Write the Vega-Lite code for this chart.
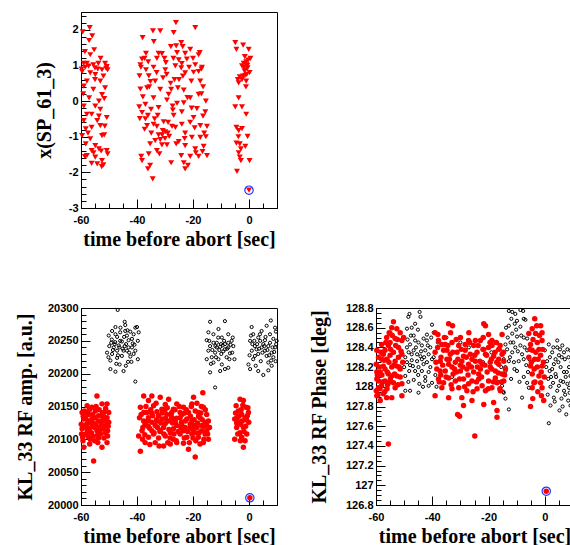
{
"$schema": "https://vega.github.io/schema/vega-lite/v6.json",
"padding": {"left": 14, "top": 9, "right": 0, "bottom": 0},
"background": "#ffffff",
"spacing": 51,
"config": {
  "view": {"stroke": "#000000", "strokeWidth": 1},
  "axis": {"labelFont": "Liberation Sans", "labelFontWeight": "bold", "labelFontSize": 11, "labelColor": "#000000",
           "titleFont": "Liberation Serif", "titleFontWeight": "bold", "titleFontSize": 20, "titleColor": "#000000",
           "domainColor": "#000000", "tickColor": "#000000", "grid": false, "labelFlush": false, "labelOverlap": false}
},
"datasets": {
"tri": [
{"t":-59.4,"v":1.94},{"t":-56.9,"v":2.06},{"t":-56.0,"v":1.83},{"t":-57.1,"v":1.70},{"t":-58.6,"v":1.39},{"t":-55.3,"v":1.44},{"t":-56.7,"v":1.30},{"t":-59.0,"v":1.06},{"t":-57.9,"v":1.06},{"t":-55.6,"v":1.02},{"t":-53.8,"v":1.06},{"t":-51.4,"v":1.06},{"t":-50.8,"v":0.97},{"t":-59.6,"v":0.83},{"t":-56.7,"v":0.79},{"t":-52.5,"v":0.88},{"t":-54.9,"v":0.74},{"t":-50.5,"v":0.88},{"t":-57.9,"v":0.56},{"t":-53.1,"v":0.56},{"t":-52.0,"v":0.70},{"t":-59.0,"v":0.42},{"t":-55.6,"v":0.33},{"t":-51.4,"v":0.37},{"t":-52.5,"v":0.18},{"t":-57.1,"v":0.09},{"t":-53.6,"v":0.00},{"t":-59.0,"v":-0.14},{"t":-54.9,"v":-0.14},{"t":-51.7,"v":0.07},{"t":-57.9,"v":-0.37},{"t":-56.2,"v":-0.37},{"t":-53.6,"v":-0.42},{"t":-53.1,"v":-0.23},{"t":-50.8,"v":-0.46},{"t":-59.0,"v":-0.55},{"t":-54.2,"v":-0.55},{"t":-58.3,"v":-0.78},{"t":-56.2,"v":-0.74},{"t":-53.1,"v":-0.69},{"t":-59.6,"v":-0.97},{"t":-52.5,"v":-0.97},{"t":-51.7,"v":-0.95},{"t":-56.7,"v":-1.06},{"t":-54.9,"v":-1.25},{"t":-58.3,"v":-1.20},{"t":-56.2,"v":-1.39},{"t":-53.6,"v":-1.34},{"t":-50.8,"v":-1.39},{"t":-57.9,"v":-1.53},{"t":-54.9,"v":-1.57},{"t":-52.5,"v":-1.67},{"t":-54.2,"v":-1.76},{"t":-50.5,"v":-1.48},{"t":-58.6,"v":-1.56},{"t":-52.0,"v":-1.79},{"t":-56.2,"v":-1.75},{"t":-52.6,"v":-1.84},{"t":-58.5,"v":0.95},{"t":-57.3,"v":0.98},{"t":-55.0,"v":0.93},{"t":-54.0,"v":0.90},{"t":-51.0,"v":0.92},{"t":-59.8,"v":0.90},{"t":-52.8,"v":-1.40},{"t":-55.5,"v":-1.45},{"t":-59.2,"v":0.20},{"t":-55.0,"v":0.60},{"t":-57.5,"v":-0.90},{"t":-51.5,"v":-0.70},{"t":-53.0,"v":1.20},
{"t":-26.1,"v":2.20},{"t":-34.3,"v":1.97},{"t":-31.7,"v":1.97},{"t":-26.9,"v":1.92},{"t":-19.2,"v":2.06},{"t":-38.0,"v":1.78},{"t":-34.0,"v":1.67},{"t":-24.2,"v":1.64},{"t":-27.9,"v":1.53},{"t":-23.7,"v":1.53},{"t":-21.0,"v":1.45},{"t":-36.8,"v":1.34},{"t":-32.3,"v":1.34},{"t":-31.1,"v":1.33},{"t":-25.7,"v":1.36},{"t":-22.8,"v":1.34},{"t":-17.6,"v":1.36},{"t":-38.2,"v":1.18},{"t":-37.3,"v":1.20},{"t":-32.9,"v":1.20},{"t":-29.7,"v":1.08},{"t":-27.0,"v":1.20},{"t":-25.1,"v":1.16},{"t":-22.2,"v":1.18},{"t":-19.2,"v":1.02},{"t":-16.8,"v":0.95},{"t":-38.8,"v":1.02},{"t":-36.8,"v":0.88},{"t":-34.1,"v":0.95},{"t":-29.9,"v":0.88},{"t":-26.3,"v":0.99},{"t":-24.2,"v":0.93},{"t":-22.8,"v":0.79},{"t":-19.8,"v":0.81},{"t":-18.0,"v":0.83},{"t":-39.1,"v":0.71},{"t":-35.8,"v":0.71},{"t":-33.5,"v":0.56},{"t":-30.7,"v":0.65},{"t":-26.6,"v":0.60},{"t":-23.6,"v":0.70},{"t":-20.6,"v":0.56},{"t":-17.4,"v":0.56},{"t":-16.4,"v":0.40},{"t":-38.8,"v":0.34},{"t":-36.4,"v":0.37},{"t":-35.6,"v":0.40},{"t":-31.7,"v":0.33},{"t":-27.8,"v":0.33},{"t":-25.4,"v":0.37},{"t":-23.3,"v":0.31},{"t":-28.7,"v":0.19},{"t":-21.0,"v":0.09},{"t":-18.0,"v":0.19},{"t":-34.1,"v":0.09},{"t":-37.9,"v":0.12},{"t":-29.3,"v":0.03},{"t":-25.7,"v":-0.06},{"t":-23.3,"v":-0.05},{"t":-15.4,"v":0.00},{"t":-39.2,"v":-0.16},{"t":-37.0,"v":-0.09},{"t":-35.0,"v":-0.23},{"t":-32.3,"v":-0.18},{"t":-27.3,"v":-0.14},{"t":-18.6,"v":-0.21},{"t":-38.2,"v":-0.32},{"t":-36.1,"v":-0.40},{"t":-26.9,"v":-0.40},{"t":-19.8,"v":-0.46},{"t":-16.4,"v":-0.42},{"t":-39.0,"v":-0.49},{"t":-30.5,"v":-0.58},{"t":-28.9,"v":-0.60},{"t":-24.0,"v":-0.65},{"t":-36.4,"v":-0.69},{"t":-34.1,"v":-0.65},{"t":-32.9,"v":-0.71},{"t":-27.5,"v":-0.71},{"t":-17.4,"v":-0.69},{"t":-15.0,"v":-0.71},{"t":-37.3,"v":-0.79},{"t":-30.8,"v":-0.83},{"t":-29.9,"v":-0.86},{"t":-26.3,"v":-0.74},{"t":-22.8,"v":-0.90},{"t":-34.9,"v":-0.90},{"t":-32.3,"v":-0.95},{"t":-28.5,"v":-0.99},{"t":-31.7,"v":-1.08},{"t":-33.5,"v":-1.11},{"t":-25.1,"v":-1.14},{"t":-20.4,"v":-1.02},{"t":-17.4,"v":-1.02},{"t":-15.4,"v":-1.00},{"t":-29.3,"v":-1.23},{"t":-31.1,"v":-1.23},{"t":-35.3,"v":-1.20},{"t":-22.8,"v":-1.25},{"t":-19.2,"v":-1.34},{"t":-16.2,"v":-1.27},{"t":-32.9,"v":-1.39},{"t":-35.8,"v":-1.48},{"t":-32.0,"v":-1.48},{"t":-21.0,"v":-1.55},{"t":-24.2,"v":-1.53},{"t":-16.6,"v":-1.42},{"t":-15.0,"v":-1.53},{"t":-38.5,"v":-1.55},{"t":-38.2,"v":-1.67},{"t":-27.8,"v":-1.73},{"t":-23.3,"v":-1.73},{"t":-21.8,"v":-1.80},{"t":-22.8,"v":-1.90},{"t":-35.3,"v":-1.80},{"t":-36.1,"v":-1.90},{"t":-34.4,"v":-2.18},
{"t":-31.0,"v":-0.95},{"t":-30.0,"v":-1.05},{"t":-29.0,"v":-0.90},{"t":-24.0,"v":-0.30},{"t":-22.0,"v":0.10},{"t":-20.0,"v":1.20},{"t":-18.0,"v":1.30},{"t":-17.0,"v":0.90},{"t":-16.0,"v":-0.90},{"t":-21.0,"v":-0.60},{"t":-24.0,"v":1.05},{"t":-28.0,"v":0.50},{"t":-33.0,"v":0.80},{"t":-36.0,"v":1.10},{"t":-37.0,"v":-0.50},{"t":-26.0,"v":-1.20},{"t":-19.0,"v":-1.45},{"t":-18.0,"v":-1.55},{"t":-38.6,"v":0.95},{"t":-35.2,"v":0.55},{"t":-32.6,"v":-0.40},{"t":-29.4,"v":0.75},{"t":-27.2,"v":-0.25},{"t":-25.0,"v":0.60},{"t":-23.0,"v":-1.05},{"t":-21.4,"v":0.95},{"t":-19.4,"v":-0.75},{"t":-17.0,"v":0.20},{"t":-15.6,"v":-0.30},{"t":-33.7,"v":-0.50},{"t":-30.2,"v":1.20},{"t":-26.0,"v":1.55},{"t":-20.5,"v":-0.20},
{"t":-4.9,"v":1.64},{"t":-2.1,"v":1.57},{"t":-4.5,"v":1.45},{"t":-0.1,"v":1.45},{"t":0.5,"v":1.20},{"t":-1.9,"v":1.06},{"t":-0.96,"v":1.02},{"t":-2.5,"v":0.99},{"t":-0.5,"v":0.93},{"t":-1.3,"v":0.88},{"t":0.2,"v":0.80},{"t":-3.3,"v":0.68},{"t":-4.0,"v":0.60},{"t":-2.5,"v":0.60},{"t":-1.0,"v":0.56},{"t":-3.7,"v":0.51},{"t":-1.1,"v":0.40},{"t":-3.7,"v":0.09},{"t":-4.9,"v":-0.16},{"t":-2.5,"v":-0.16},{"t":-1.0,"v":-0.37},{"t":-4.5,"v":-0.74},{"t":-2.5,"v":-0.77},{"t":-3.7,"v":-0.83},{"t":-4.5,"v":-1.18},{"t":-3.3,"v":-1.20},{"t":-1.3,"v":-1.27},{"t":-0.5,"v":-0.99},{"t":-2.9,"v":-1.34},{"t":-3.7,"v":-1.45},{"t":-3.3,"v":-1.57},{"t":-2.9,"v":-1.67},{"t":0.2,"v":-1.67},{"t":-4.3,"v":-1.97},{"t":-1.0,"v":1.10},{"t":-0.6,"v":1.00},{"t":-1.6,"v":0.85},{"t":-0.3,"v":1.15},{"t":-2.2,"v":0.70},{"t":-1.4,"v":0.72},{"t":-1.8,"v":0.95},{"t":-0.8,"v":0.75},{"t":-3.8,"v":-1.00},{"t":-1.5,"v":1.25},{"t":0.0,"v":-2.50}
],
"ampk": [
{"t":-46.9,"v":20297},{"t":-47.7,"v":20271},{"t":-44.4,"v":20279},{"t":-44.2,"v":20274},{"t":-40.6,"v":20270},{"t":-40.0,"v":20271},{"t":-48.9,"v":20265},{"t":-46.0,"v":20263},{"t":-42.4,"v":20264},{"t":-50.1,"v":20258},{"t":-47.1,"v":20256},{"t":-43.6,"v":20258},{"t":-41.2,"v":20260},{"t":-49.2,"v":20247},{"t":-48.0,"v":20245},{"t":-45.4,"v":20249},{"t":-43.0,"v":20251},{"t":-39.7,"v":20250},{"t":-49.9,"v":20242},{"t":-46.3,"v":20240},{"t":-44.4,"v":20242},{"t":-41.8,"v":20240},{"t":-47.1,"v":20235},{"t":-43.6,"v":20235},{"t":-40.6,"v":20235},{"t":-48.9,"v":20230},{"t":-45.4,"v":20227},{"t":-42.4,"v":20226},{"t":-49.5,"v":20220},{"t":-47.1,"v":20224},{"t":-43.2,"v":20218},{"t":-39.7,"v":20222},{"t":-46.2,"v":20214},{"t":-44.0,"v":20212},{"t":-49.5,"v":20207},{"t":-47.7,"v":20203},{"t":-44.8,"v":20204},{"t":-40.6,"v":20188},{"t":-48.3,"v":20240},{"t":-44.8,"v":20235},{"t":-43.0,"v":20240},{"t":-46.0,"v":20250},{"t":-41.8,"v":20253},{"t":-44.2,"v":20265},{"t":-39.4,"v":20263},{"t":-41.2,"v":20230},{"t":-50.7,"v":20232},{"t":-47.7,"v":20260},{"t":-49.0,"v":20252},{"t":-47.8,"v":20248},{"t":-46.5,"v":20243},{"t":-45.1,"v":20238},{"t":-43.9,"v":20245},{"t":-42.8,"v":20232},{"t":-41.5,"v":20246},{"t":-48.6,"v":20236},{"t":-46.8,"v":20228},{"t":-45.9,"v":20270},{"t":-43.4,"v":20266},{"t":-42.0,"v":20218},{"t":-40.9,"v":20244},{"t":-47.4,"v":20215},{"t":-44.6,"v":20256},{"t":-50.2,"v":20225},
{"t":-13.9,"v":20279},{"t":-8.6,"v":20280},{"t":-10.9,"v":20268},{"t":-14.5,"v":20263},{"t":-12.7,"v":20260},{"t":-7.4,"v":20260},{"t":-9.7,"v":20255},{"t":-6.2,"v":20250},{"t":-15.1,"v":20251},{"t":-11.5,"v":20247},{"t":-8.6,"v":20245},{"t":-13.9,"v":20242},{"t":-10.3,"v":20241},{"t":-7.4,"v":20240},{"t":-5.6,"v":20242},{"t":-14.5,"v":20235},{"t":-12.1,"v":20232},{"t":-9.2,"v":20234},{"t":-6.8,"v":20231},{"t":-13.3,"v":20225},{"t":-10.9,"v":20222},{"t":-8.0,"v":20225},{"t":-5.2,"v":20222},{"t":-15.1,"v":20222},{"t":-12.7,"v":20217},{"t":-9.7,"v":20214},{"t":-7.4,"v":20209},{"t":-13.9,"v":20202},{"t":-10.3,"v":20204},{"t":-8.6,"v":20207},{"t":-12.1,"v":20179},{"t":-11.5,"v":20240},{"t":-10.0,"v":20245},{"t":-8.6,"v":20237},{"t":-7.4,"v":20247},{"t":-12.7,"v":20247},{"t":-14.2,"v":20250},{"t":-13.1,"v":20236},{"t":-12.0,"v":20242},{"t":-11.0,"v":20255},{"t":-9.9,"v":20230},{"t":-8.9,"v":20250},{"t":-7.8,"v":20238},{"t":-6.6,"v":20244},{"t":-5.8,"v":20255},{"t":-13.6,"v":20215},{"t":-11.8,"v":20225},{"t":-9.4,"v":20243},{"t":-7.0,"v":20222},{"t":-10.6,"v":20236},{"t":-6.0,"v":20232},
{"t":0.95,"v":20271},{"t":4.5,"v":20265},{"t":7.8,"v":20281},{"t":6.3,"v":20273},{"t":9.3,"v":20270},{"t":1.5,"v":20260},{"t":3.3,"v":20255},{"t":7.5,"v":20260},{"t":0.4,"v":20250},{"t":5.7,"v":20251},{"t":8.7,"v":20253},{"t":2.1,"v":20242},{"t":4.5,"v":20240},{"t":6.9,"v":20242},{"t":1.0,"v":20235},{"t":3.3,"v":20230},{"t":5.7,"v":20235},{"t":8.1,"v":20232},{"t":9.3,"v":20240},{"t":1.5,"v":20222},{"t":4.2,"v":20219},{"t":6.9,"v":20217},{"t":9.5,"v":20219},{"t":0.4,"v":20207},{"t":3.3,"v":20204},{"t":5.1,"v":20198},{"t":6.9,"v":20205},{"t":8.1,"v":20212},{"t":-0.2,"v":20214},{"t":2.7,"v":20237},{"t":5.1,"v":20245},{"t":7.5,"v":20247},{"t":6.3,"v":20227},{"t":2.1,"v":20227},{"t":3.9,"v":20260},{"t":8.7,"v":20225},{"t":1.2,"v":20245},{"t":5.9,"v":20256},{"t":9.9,"v":20250},{"t":0.7,"v":20258},{"t":1.9,"v":20250},{"t":2.9,"v":20245},{"t":3.6,"v":20238},{"t":4.8,"v":20232},{"t":5.5,"v":20242},{"t":6.6,"v":20236},{"t":7.2,"v":20228},{"t":8.4,"v":20240},{"t":9.0,"v":20233},{"t":9.7,"v":20245},{"t":0.2,"v":20228},{"t":2.4,"v":20212},{"t":4.0,"v":20250},{"t":7.9,"v":20220},{"t":9.6,"v":20264}
],
"ampr": [
{"t":-54.3,"v":20166},{"t":-57.8,"v":20151},{"t":-50.7,"v":20154},{"t":-56.1,"v":20149},{"t":-52.5,"v":20154},{"t":-59.6,"v":20141},{"t":-57.2,"v":20138},{"t":-54.9,"v":20143},{"t":-51.9,"v":20141},{"t":-59.0,"v":20131},{"t":-56.1,"v":20131},{"t":-53.7,"v":20136},{"t":-50.7,"v":20133},{"t":-58.0,"v":20123},{"t":-55.5,"v":20124},{"t":-52.9,"v":20126},{"t":-51.0,"v":20121},{"t":-59.6,"v":20116},{"t":-57.0,"v":20117},{"t":-54.3,"v":20113},{"t":-51.9,"v":20116},{"t":-58.4,"v":20108},{"t":-55.7,"v":20105},{"t":-53.1,"v":20108},{"t":-50.5,"v":20105},{"t":-59.3,"v":20098},{"t":-56.7,"v":20100},{"t":-53.7,"v":20102},{"t":-50.7,"v":20095},{"t":-59.0,"v":20088},{"t":-52.5,"v":20088},{"t":-55.5,"v":20067},{"t":-59.9,"v":20123},{"t":-57.5,"v":20128},{"t":-54.6,"v":20121},{"t":-56.3,"v":20110},{"t":-51.3,"v":20110},{"t":-57.9,"v":20116},{"t":-53.2,"v":20118},{"t":-55.0,"v":20133},{"t":-52.2,"v":20131},{"t":-50.1,"v":20126},{"t":-58.8,"v":20143},{"t":-59.8,"v":20108},{"t":-54.0,"v":20095},{"t":-50.1,"v":20141},{"t":-56.9,"v":20093},{"t":-50.5,"v":20113},{"t":-59.2,"v":20135},{"t":-58.1,"v":20140},{"t":-57.0,"v":20145},{"t":-55.8,"v":20138},{"t":-54.6,"v":20150},{"t":-53.5,"v":20145},{"t":-52.3,"v":20140},{"t":-51.2,"v":20147},{"t":-58.9,"v":20120},{"t":-57.6,"v":20112},{"t":-56.4,"v":20125},{"t":-55.2,"v":20118},{"t":-53.9,"v":20128},{"t":-52.7,"v":20122},{"t":-51.5,"v":20128},{"t":-50.3,"v":20120},{"t":-59.4,"v":20103},{"t":-57.4,"v":20104},{"t":-55.1,"v":20098},{"t":-53.3,"v":20112},{"t":-51.8,"v":20102},{"t":-56.0,"v":20120},{"t":-54.2,"v":20106},{"t":-58.3,"v":20132},{"t":-52.0,"v":20135},
{"t":-37.6,"v":20166},{"t":-34.7,"v":20166},{"t":-35.9,"v":20159},{"t":-31.7,"v":20164},{"t":-28.7,"v":20161},{"t":-19.8,"v":20164},{"t":-16.5,"v":20171},{"t":-20.4,"v":20154},{"t":-25.8,"v":20154},{"t":-38.8,"v":20149},{"t":-34.1,"v":20151},{"t":-29.9,"v":20153},{"t":-27.0,"v":20146},{"t":-23.4,"v":20149},{"t":-16.3,"v":20149},{"t":-37.6,"v":20141},{"t":-32.9,"v":20142},{"t":-29.3,"v":20138},{"t":-24.6,"v":20141},{"t":-19.2,"v":20143},{"t":-15.1,"v":20138},{"t":-39.1,"v":20133},{"t":-35.9,"v":20133},{"t":-31.1,"v":20131},{"t":-27.6,"v":20133},{"t":-22.2,"v":20131},{"t":-17.5,"v":20133},{"t":-14.5,"v":20128},{"t":-37.1,"v":20123},{"t":-33.5,"v":20121},{"t":-29.9,"v":20124},{"t":-25.8,"v":20121},{"t":-21.0,"v":20123},{"t":-16.9,"v":20121},{"t":-38.2,"v":20113},{"t":-34.7,"v":20113},{"t":-31.7,"v":20114},{"t":-28.1,"v":20110},{"t":-23.4,"v":20113},{"t":-19.2,"v":20110},{"t":-15.1,"v":20113},{"t":-39.4,"v":20105},{"t":-35.9,"v":20103},{"t":-32.3,"v":20102},{"t":-27.0,"v":20100},{"t":-22.2,"v":20103},{"t":-18.1,"v":20103},{"t":-14.5,"v":20100},{"t":-37.1,"v":20095},{"t":-33.5,"v":20095},{"t":-30.5,"v":20090},{"t":-25.8,"v":20095},{"t":-23.4,"v":20094},{"t":-16.3,"v":20095},{"t":-38.8,"v":20082},{"t":-28.1,"v":20093},{"t":-21.6,"v":20085},{"t":-19.2,"v":20073},{"t":-17.5,"v":20093},{"t":-36.5,"v":20141},{"t":-34.7,"v":20126},{"t":-32.3,"v":20136},{"t":-30.5,"v":20118},{"t":-28.7,"v":20128},{"t":-26.3,"v":20126},{"t":-24.6,"v":20133},{"t":-22.8,"v":20118},{"t":-21.6,"v":20141},{"t":-20.4,"v":20128},{"t":-18.6,"v":20118},{"t":-18.1,"v":20141},{"t":-15.7,"v":20126},{"t":-14.1,"v":20118},{"t":-34.1,"v":20108},{"t":-29.9,"v":20105},{"t":-24.6,"v":20108},{"t":-20.4,"v":20108},{"t":-15.7,"v":20108},{"t":-31.1,"v":20146},{"t":-27.6,"v":20141},{"t":-24.1,"v":20126},{"t":-19.8,"v":20121},{"t":-32.9,"v":20128},{"t":-37.6,"v":20128},{"t":-27.0,"v":20116},{"t":-16.9,"v":20113},{"t":-35.5,"v":20117},
{"t":-38.5,"v":20138},{"t":-37.9,"v":20118},{"t":-37.2,"v":20107},{"t":-36.8,"v":20150},{"t":-36.2,"v":20128},{"t":-35.4,"v":20092},{"t":-35.1,"v":20145},{"t":-34.4,"v":20136},{"t":-33.9,"v":20110},{"t":-33.2,"v":20155},{"t":-32.7,"v":20118},{"t":-32.1,"v":20090},{"t":-31.5,"v":20125},{"t":-31.0,"v":20140},{"t":-30.4,"v":20108},{"t":-29.8,"v":20132},{"t":-29.2,"v":20148},{"t":-28.6,"v":20115},{"t":-28.2,"v":20102},{"t":-27.8,"v":20138},{"t":-27.3,"v":20125},{"t":-26.8,"v":20108},{"t":-26.4,"v":20145},{"t":-25.9,"v":20132},{"t":-25.3,"v":20112},{"t":-24.9,"v":20150},{"t":-24.3,"v":20118},{"t":-23.9,"v":20138},{"t":-23.1,"v":20102},{"t":-22.7,"v":20128},{"t":-22.4,"v":20145},{"t":-21.9,"v":20112},{"t":-21.3,"v":20095},{"t":-20.9,"v":20135},{"t":-20.6,"v":20150},{"t":-20.1,"v":20115},{"t":-19.6,"v":20130},{"t":-19.0,"v":20098},{"t":-18.6,"v":20155},{"t":-18.4,"v":20125},{"t":-17.8,"v":20110},{"t":-17.2,"v":20140},{"t":-16.7,"v":20130},{"t":-16.1,"v":20100},{"t":-15.6,"v":20145},{"t":-15.2,"v":20122},{"t":-14.8,"v":20108},{"t":-36.0,"v":20120},{"t":-33.0,"v":20130},{"t":-30.0,"v":20145},{"t":-27.0,"v":20130},{"t":-24.0,"v":20122},{"t":-21.0,"v":20118},{"t":-18.0,"v":20135},{"t":-16.0,"v":20120},{"t":-38.0,"v":20100},{"t":-29.0,"v":20095},{"t":-26.0,"v":20098},{"t":-23.0,"v":20140},{"t":-31.8,"v":20112},{"t":-34.8,"v":20140},{"t":-20.0,"v":20102},{"t":-17.0,"v":20150},
{"t":-3.2,"v":20161},{"t":-2.0,"v":20159},{"t":-4.6,"v":20151},{"t":-1.1,"v":20149},{"t":-3.8,"v":20143},{"t":-0.2,"v":20141},{"t":-2.6,"v":20138},{"t":-5.1,"v":20131},{"t":-1.4,"v":20133},{"t":-3.4,"v":20126},{"t":-0.1,"v":20126},{"t":-4.4,"v":20118},{"t":-2.0,"v":20118},{"t":-3.2,"v":20110},{"t":-0.8,"v":20108},{"t":-5.1,"v":20100},{"t":-2.6,"v":20103},{"t":-1.4,"v":20098},{"t":-2.0,"v":20088},{"t":-4.2,"v":20133},{"t":-0.6,"v":20136},{"t":-3.0,"v":20123},{"t":-4.8,"v":20140},{"t":-3.6,"v":20135},{"t":-2.4,"v":20128},{"t":-1.2,"v":20120},{"t":-0.4,"v":20148},{"t":-4.0,"v":20108},{"t":-2.8,"v":20145},{"t":-1.8,"v":20112},{"t":-3.1,"v":20098},{"t":-0.9,"v":20130},{"t":-4.4,"v":20125},{"t":-2.2,"v":20152},{"t":0.3,"v":20011}
],
"phk": [
{"t":-48.1,"v":128.74},{"t":-44.5,"v":128.76},{"t":-48.5,"v":128.71},{"t":-44.2,"v":128.71},{"t":-46.1,"v":128.64},{"t":-47.3,"v":128.60},{"t":-40.1,"v":128.63},{"t":-49.0,"v":128.59},{"t":-45.1,"v":128.58},{"t":-39.5,"v":128.55},{"t":-46.6,"v":128.52},{"t":-43.1,"v":128.49},{"t":-41.9,"v":128.47},{"t":-44.9,"v":128.45},{"t":-47.9,"v":128.43},{"t":-43.7,"v":128.42},{"t":-40.7,"v":128.40},{"t":-46.6,"v":128.37},{"t":-48.4,"v":128.35},{"t":-42.5,"v":128.37},{"t":-45.4,"v":128.33},{"t":-41.3,"v":128.33},{"t":-49.6,"v":128.30},{"t":-47.3,"v":128.27},{"t":-43.7,"v":128.28},{"t":-49.0,"v":128.25},{"t":-45.4,"v":128.26},{"t":-41.9,"v":128.25},{"t":-40.1,"v":128.28},{"t":-48.2,"v":128.16},{"t":-46.1,"v":128.16},{"t":-43.7,"v":128.16},{"t":-41.3,"v":128.15},{"t":-49.6,"v":128.11},{"t":-46.6,"v":128.07},{"t":-42.5,"v":128.10},{"t":-40.1,"v":128.04},{"t":-44.6,"v":128.03},{"t":-47.9,"v":127.96},{"t":-44.9,"v":127.94},{"t":-41.3,"v":128.01},{"t":-47.3,"v":128.33},{"t":-44.2,"v":128.31},{"t":-43.1,"v":128.23},{"t":-47.9,"v":128.22},{"t":-40.7,"v":128.20},{"t":-44.9,"v":128.20},{"t":-46.1,"v":128.47},{"t":-49.0,"v":128.40},{"t":-41.9,"v":128.53},{"t":-42.5,"v":128.06},{"t":-49.6,"v":127.96},{"t":-48.8,"v":128.48},{"t":-47.6,"v":128.52},{"t":-45.8,"v":128.40},{"t":-44.0,"v":128.36},{"t":-42.9,"v":128.30},{"t":-41.6,"v":128.42},{"t":-40.4,"v":128.50},{"t":-46.9,"v":128.21},{"t":-45.0,"v":128.12},{"t":-43.3,"v":128.00},{"t":-48.5,"v":128.05},{"t":-50.0,"v":128.20},{"t":-39.5,"v":128.30},{"t":-38.9,"v":128.12},
{"t":-38.0,"v":128.45},{"t":-35.0,"v":128.50},{"t":-30.0,"v":128.45},{"t":-27.0,"v":128.40},{"t":-22.0,"v":128.25},{"t":-19.0,"v":128.35},{"t":-17.0,"v":128.45},{"t":-16.0,"v":128.38},{"t":-15.5,"v":128.20},{"t":-16.5,"v":128.05},{"t":-14.8,"v":127.95},{"t":-38.5,"v":128.00},{"t":-33.0,"v":128.10},
{"t":-12.8,"v":128.77},{"t":-11.6,"v":128.76},{"t":-10.5,"v":128.74},{"t":-8.7,"v":128.78},{"t":-7.7,"v":128.77},{"t":-11.9,"v":128.69},{"t":-9.9,"v":128.67},{"t":-7.5,"v":128.69},{"t":-12.8,"v":128.62},{"t":-10.7,"v":128.64},{"t":-8.7,"v":128.61},{"t":-6.9,"v":128.68},{"t":-11.6,"v":128.54},{"t":-9.9,"v":128.51},{"t":-7.5,"v":128.50},{"t":-6.3,"v":128.49},{"t":-14.0,"v":128.43},{"t":-12.2,"v":128.45},{"t":-10.5,"v":128.40},{"t":-8.7,"v":128.42},{"t":-13.4,"v":128.38},{"t":-11.6,"v":128.35},{"t":-8.1,"v":128.33},{"t":-6.3,"v":128.37},{"t":-14.6,"v":128.28},{"t":-12.8,"v":128.26},{"t":-11.0,"v":128.25},{"t":-9.3,"v":128.26},{"t":-7.5,"v":128.28},{"t":-14.0,"v":128.20},{"t":-14.0,"v":128.16},{"t":-14.6,"v":128.13},{"t":-9.9,"v":128.16},{"t":-7.5,"v":128.10},{"t":-6.3,"v":128.04},{"t":-15.2,"v":128.01},{"t":-14.6,"v":127.94},{"t":-14.0,"v":127.88},{"t":-12.8,"v":127.77},{"t":-8.1,"v":127.89},{"t":-5.7,"v":127.99},{"t":-4.5,"v":128.13},{"t":-13.2,"v":128.50},{"t":-12.4,"v":128.30},{"t":-11.2,"v":128.45},{"t":-10.2,"v":128.58},{"t":-9.6,"v":128.36},{"t":-8.4,"v":128.52},{"t":-7.2,"v":128.40},{"t":-6.6,"v":128.22},{"t":-5.5,"v":128.28},{"t":-12.0,"v":128.08},{"t":-10.8,"v":128.18},{"t":-9.0,"v":128.05},{"t":-6.0,"v":128.15},{"t":-13.8,"v":128.60},
{"t":1.4,"v":128.43},{"t":4.4,"v":128.47},{"t":6.2,"v":128.42},{"t":8.0,"v":128.38},{"t":9.1,"v":128.37},{"t":2.6,"v":128.35},{"t":5.0,"v":128.32},{"t":7.1,"v":128.28},{"t":0.8,"v":128.26},{"t":3.2,"v":128.23},{"t":5.6,"v":128.20},{"t":8.6,"v":128.20},{"t":1.7,"v":128.16},{"t":3.8,"v":128.13},{"t":6.8,"v":128.15},{"t":9.1,"v":128.11},{"t":1.2,"v":128.08},{"t":2.9,"v":128.04},{"t":5.6,"v":128.06},{"t":8.0,"v":128.03},{"t":2.0,"v":128.00},{"t":4.4,"v":127.96},{"t":6.8,"v":127.96},{"t":8.8,"v":127.94},{"t":3.2,"v":127.89},{"t":5.9,"v":127.88},{"t":8.3,"v":127.86},{"t":2.0,"v":127.81},{"t":5.2,"v":127.76},{"t":7.6,"v":127.72},{"t":9.1,"v":127.81},{"t":1.4,"v":127.63},{"t":0.0,"v":128.37},{"t":6.8,"v":128.35},{"t":3.8,"v":128.28},{"t":7.4,"v":128.10},{"t":5.0,"v":128.01},{"t":2.6,"v":128.18},{"t":8.6,"v":127.99},{"t":4.4,"v":128.40},{"t":0.5,"v":128.20},{"t":1.8,"v":128.30},{"t":3.0,"v":128.40},{"t":4.0,"v":128.10},{"t":4.8,"v":128.25},{"t":6.0,"v":128.30},{"t":6.5,"v":128.05},{"t":7.8,"v":128.15},{"t":8.4,"v":128.30},{"t":9.5,"v":128.25},{"t":9.8,"v":127.95},{"t":3.5,"v":127.85},{"t":6.3,"v":127.80},{"t":1.0,"v":127.92},{"t":9.4,"v":128.05},{"t":2.2,"v":128.10},{"t":5.4,"v":128.38},{"t":7.2,"v":127.92}
],
"phr": [
{"t":-53.8,"v":128.66},{"t":-52.6,"v":128.59},{"t":-51.4,"v":128.55},{"t":-55.0,"v":128.54},{"t":-56.2,"v":128.50},{"t":-53.2,"v":128.49},{"t":-50.8,"v":128.47},{"t":-58.0,"v":128.43},{"t":-55.6,"v":128.42},{"t":-52.0,"v":128.40},{"t":-59.7,"v":128.37},{"t":-56.8,"v":128.37},{"t":-53.8,"v":128.35},{"t":-50.8,"v":128.33},{"t":-59.1,"v":128.30},{"t":-56.1,"v":128.28},{"t":-53.2,"v":128.26},{"t":-59.9,"v":128.23},{"t":-57.4,"v":128.21},{"t":-54.4,"v":128.20},{"t":-51.4,"v":128.18},{"t":-58.5,"v":128.15},{"t":-55.6,"v":128.13},{"t":-52.6,"v":128.11},{"t":-59.7,"v":128.08},{"t":-56.8,"v":128.06},{"t":-53.8,"v":128.04},{"t":-50.8,"v":128.03},{"t":-59.1,"v":127.99},{"t":-56.1,"v":127.98},{"t":-53.2,"v":127.99},{"t":-59.7,"v":127.91},{"t":-57.4,"v":127.93},{"t":-54.4,"v":127.89},{"t":-58.5,"v":127.86},{"t":-50.8,"v":127.91},{"t":-55.6,"v":127.42},{"t":-58.0,"v":128.28},{"t":-55.0,"v":128.32},{"t":-52.0,"v":128.30},{"t":-56.8,"v":128.18},{"t":-54.4,"v":128.11},{"t":-59.1,"v":128.06},{"t":-55.6,"v":128.04},{"t":-52.6,"v":128.21},{"t":-58.0,"v":128.01},{"t":-59.9,"v":127.96},{"t":-55.0,"v":128.45},{"t":-54.4,"v":128.60},{"t":-50.2,"v":128.50},{"t":-57.4,"v":128.33},{"t":-59.7,"v":128.15},{"t":-51.4,"v":128.10},{"t":-56.2,"v":127.89},{"t":-59.5,"v":128.12},{"t":-58.8,"v":128.20},{"t":-58.2,"v":128.35},{"t":-57.7,"v":128.05},{"t":-57.1,"v":128.27},{"t":-56.5,"v":128.45},{"t":-56.0,"v":128.15},{"t":-55.4,"v":128.25},{"t":-54.8,"v":128.38},{"t":-54.2,"v":128.52},{"t":-53.6,"v":128.22},{"t":-53.0,"v":128.42},{"t":-52.4,"v":128.48},{"t":-51.8,"v":128.20},{"t":-51.1,"v":128.36},{"t":-50.5,"v":128.25},{"t":-59.3,"v":127.92},{"t":-58.6,"v":127.98},{"t":-57.9,"v":128.12},{"t":-56.9,"v":127.95},{"t":-55.9,"v":128.02},{"t":-54.9,"v":128.08},{"t":-53.4,"v":128.13},{"t":-52.2,"v":128.02},{"t":-55.3,"v":128.55},
{"t":-39.0,"v":128.55},{"t":-38.0,"v":128.53},{"t":-34.2,"v":128.64},{"t":-32.8,"v":128.62},{"t":-21.7,"v":128.64},{"t":-21.1,"v":128.62},{"t":-15.2,"v":128.53},{"t":-18.8,"v":128.47},{"t":-17.3,"v":128.45},{"t":-37.8,"v":128.47},{"t":-35.4,"v":128.43},{"t":-33.0,"v":128.45},{"t":-30.6,"v":128.42},{"t":-28.3,"v":128.43},{"t":-25.3,"v":128.42},{"t":-22.9,"v":128.47},{"t":-20.0,"v":128.40},{"t":-16.4,"v":128.38},{"t":-39.0,"v":128.35},{"t":-36.0,"v":128.37},{"t":-33.6,"v":128.33},{"t":-31.2,"v":128.35},{"t":-28.9,"v":128.31},{"t":-26.5,"v":128.33},{"t":-24.1,"v":128.35},{"t":-21.1,"v":128.33},{"t":-18.2,"v":128.31},{"t":-15.2,"v":128.33},{"t":-37.2,"v":128.26},{"t":-34.8,"v":128.28},{"t":-31.8,"v":128.25},{"t":-29.5,"v":128.26},{"t":-27.1,"v":128.23},{"t":-24.7,"v":128.26},{"t":-22.3,"v":128.23},{"t":-19.4,"v":128.25},{"t":-16.4,"v":128.23},{"t":-14.6,"v":128.26},{"t":-38.4,"v":128.18},{"t":-35.4,"v":128.16},{"t":-33.0,"v":128.20},{"t":-30.0,"v":128.16},{"t":-27.7,"v":128.18},{"t":-25.3,"v":128.15},{"t":-22.9,"v":128.18},{"t":-20.5,"v":128.15},{"t":-17.6,"v":128.16},{"t":-15.2,"v":128.13},{"t":-37.8,"v":128.08},{"t":-34.2,"v":128.09},{"t":-31.8,"v":128.06},{"t":-28.9,"v":128.08},{"t":-25.9,"v":128.06},{"t":-23.5,"v":128.08},{"t":-20.0,"v":128.06},{"t":-17.0,"v":128.04},{"t":-14.6,"v":128.06},{"t":-36.6,"v":127.99},{"t":-33.0,"v":127.98},{"t":-30.6,"v":127.99},{"t":-27.7,"v":127.96},{"t":-24.1,"v":127.98},{"t":-21.1,"v":127.96},{"t":-18.8,"v":127.99},{"t":-15.8,"v":127.96},{"t":-39.0,"v":127.91},{"t":-34.2,"v":127.89},{"t":-29.5,"v":127.89},{"t":-25.9,"v":127.86},{"t":-28.9,"v":127.81},{"t":-21.7,"v":127.82},{"t":-18.2,"v":127.84},{"t":-17.0,"v":127.69},{"t":-17.0,"v":127.76},{"t":-31.0,"v":127.72},{"t":-30.3,"v":127.70},{"t":-24.9,"v":127.50},{"t":-36.6,"v":128.43},{"t":-34.2,"v":128.23},{"t":-31.4,"v":128.15},{"t":-28.3,"v":128.37},{"t":-25.9,"v":128.28},{"t":-23.5,"v":128.13},{"t":-21.7,"v":128.38},{"t":-19.4,"v":128.20},{"t":-17.6,"v":128.09},{"t":-36.0,"v":128.04},{"t":-32.6,"v":128.13},{"t":-27.1,"v":128.03},{"t":-22.3,"v":128.01},{"t":-14.0,"v":128.18},{"t":-16.4,"v":128.28},{"t":-20.0,"v":128.53},{"t":-30.0,"v":128.50},{"t":-37.2,"v":128.16},{"t":-34.8,"v":128.37},{"t":-24.7,"v":128.47},{"t":-27.1,"v":128.47},{"t":-18.8,"v":128.42},
{"t":-38.7,"v":128.25},{"t":-38.1,"v":128.40},{"t":-37.5,"v":128.05},{"t":-36.9,"v":128.30},{"t":-36.3,"v":128.22},{"t":-35.7,"v":128.50},{"t":-35.1,"v":128.10},{"t":-34.5,"v":128.42},{"t":-33.9,"v":128.28},{"t":-33.3,"v":128.02},{"t":-32.7,"v":128.35},{"t":-32.1,"v":128.18},{"t":-31.5,"v":128.48},{"t":-30.9,"v":128.28},{"t":-30.3,"v":128.08},{"t":-29.7,"v":128.38},{"t":-29.1,"v":128.20},{"t":-28.5,"v":128.00},{"t":-27.9,"v":128.30},{"t":-27.3,"v":128.12},{"t":-26.7,"v":128.45},{"t":-26.1,"v":128.20},{"t":-25.5,"v":127.95},{"t":-24.9,"v":128.32},{"t":-24.3,"v":128.05},{"t":-23.7,"v":128.42},{"t":-23.1,"v":128.26},{"t":-22.5,"v":128.10},{"t":-21.9,"v":128.50},{"t":-21.3,"v":128.22},{"t":-20.7,"v":128.32},{"t":-20.1,"v":127.98},{"t":-19.5,"v":128.45},{"t":-18.9,"v":128.18},{"t":-18.3,"v":128.05},{"t":-17.7,"v":128.35},{"t":-17.1,"v":128.25},{"t":-16.5,"v":128.14},{"t":-15.9,"v":128.42},{"t":-15.4,"v":128.05},{"t":-14.7,"v":128.35},{"t":-14.3,"v":128.12},{"t":-37.0,"v":128.12},{"t":-33.5,"v":128.55},{"t":-30.0,"v":128.22},{"t":-27.0,"v":128.55},{"t":-24.0,"v":128.20},{"t":-22.0,"v":128.38},{"t":-19.0,"v":128.28},{"t":-16.0,"v":127.98},
{"t":-3.6,"v":128.69},{"t":-4.5,"v":128.59},{"t":-1.5,"v":128.62},{"t":-5.7,"v":128.54},{"t":-3.3,"v":128.54},{"t":-1.0,"v":128.55},{"t":-5.1,"v":128.43},{"t":-2.7,"v":128.45},{"t":-1.0,"v":128.47},{"t":-4.5,"v":128.37},{"t":-2.1,"v":128.38},{"t":-5.7,"v":128.30},{"t":-3.6,"v":128.28},{"t":-1.5,"v":128.32},{"t":-5.1,"v":128.21},{"t":-2.7,"v":128.20},{"t":-1.0,"v":128.21},{"t":-4.5,"v":128.13},{"t":-2.1,"v":128.11},{"t":-3.9,"v":128.04},{"t":-1.5,"v":128.04},{"t":-4.5,"v":127.99},{"t":-1.0,"v":127.99},{"t":-1.2,"v":127.91},{"t":-4.3,"v":127.88},{"t":-0.4,"v":127.86},{"t":-5.1,"v":127.80},{"t":-5.3,"v":128.38},{"t":-4.8,"v":128.25},{"t":-4.2,"v":128.48},{"t":-3.8,"v":128.18},{"t":-3.2,"v":128.35},{"t":-2.9,"v":128.62},{"t":-2.4,"v":128.28},{"t":-1.9,"v":128.52},{"t":-1.3,"v":128.15},{"t":-0.8,"v":128.38},{"t":-0.5,"v":128.25},{"t":-3.5,"v":128.05},{"t":-2.5,"v":127.95},{"t":-0.2,"v":128.10},{"t":0.5,"v":126.94}
]
},
"vconcat": [
{
  "width": 196, "height": 196,
  "encoding": {
    "x": {"field": "t", "type": "quantitative", "scale": {"domain": [-60, 10], "nice": false, "zero": false},
          "axis": {"title": "time before abort [sec]", "titlePadding": 0,
                   "values": [-60,-55,-50,-45,-40,-35,-30,-25,-20,-15,-10,-5,0,5,10],
                   "labelExpr": "(datum.value % 20 === 0 && datum.value <= 0) ? '' + datum.value : ''",
                   "tickSize": {"condition": {"test": "datum.value % 20 === 0", "value": -9}, "value": -5},
                   "labelPadding": 15}},
    "y": {"field": "v", "type": "quantitative", "scale": {"domain": [-3, 2.5], "nice": false, "zero": false},
          "axis": {"title": "x(SP_61_3)", "titlePadding": 14,
                   "values": [-3,-2.8,-2.6,-2.4,-2.2,-2,-1.8,-1.6,-1.4,-1.2,-1,-0.8,-0.6,-0.4,-0.2,0,0.2,0.4,0.6,0.8,1,1.2,1.4,1.6,1.8,2,2.2,2.4],
                   "labelExpr": "abs(datum.value - round(datum.value)) < 1e-6 ? '' + round(datum.value) : ''",
                   "tickSize": {"condition": {"test": "abs(datum.value - round(datum.value)) < 1e-6", "value": -9}, "value": -5},
                   "labelPadding": 12}}
  },
  "layer": [
    {"data": {"name": "tri"}, "mark": {"type": "point", "shape": "triangle-down", "filled": true, "color": "#ff0000", "opacity": 1, "size": 36}},
    {"data": {"values": [{"t": 0, "v": -2.5}]}, "mark": {"type": "point", "shape": "circle", "filled": false, "stroke": "#2233ff", "strokeWidth": 1.2, "opacity": 1, "size": 70}}
  ]
},
{
  "spacing": 27,
  "hconcat": [
    {
      "width": 196, "height": 197,
      "encoding": {
        "x": {"field": "t", "type": "quantitative", "scale": {"domain": [-60, 10], "nice": false, "zero": false},
              "axis": {"title": "time before abort [sec]", "titlePadding": 0,
                       "values": [-60,-55,-50,-45,-40,-35,-30,-25,-20,-15,-10,-5,0,5,10],
                       "labelExpr": "(datum.value % 20 === 0 && datum.value <= 0) ? '' + datum.value : ''",
                       "tickSize": {"condition": {"test": "datum.value % 20 === 0", "value": -9}, "value": -5},
                       "labelPadding": 15}},
        "y": {"field": "v", "type": "quantitative", "scale": {"domain": [20000, 20300], "nice": false, "zero": false},
              "axis": {"title": "KL_33 RF amp. [a.u.]", "titlePadding": 12,
                       "values": [20000,20010,20020,20030,20040,20050,20060,20070,20080,20090,20100,20110,20120,20130,20140,20150,20160,20170,20180,20190,20200,20210,20220,20230,20240,20250,20260,20270,20280,20290,20300],
                       "labelExpr": "datum.value % 50 === 0 ? '' + datum.value : ''",
                       "tickSize": {"condition": {"test": "datum.value % 50 === 0", "value": -9}, "value": -5},
                       "labelPadding": 12}}
      },
      "layer": [
        {"data": {"name": "ampk"}, "mark": {"type": "point", "shape": "circle", "filled": false, "stroke": "#000000", "strokeWidth": 1, "opacity": 1, "size": 10}},
        {"data": {"name": "ampr"}, "mark": {"type": "point", "shape": "circle", "filled": true, "color": "#ff0000", "opacity": 1, "size": 30}},
        {"data": {"values": [{"t": 0.3, "v": 20011}]}, "mark": {"type": "point", "shape": "circle", "filled": false, "stroke": "#2233ff", "strokeWidth": 1.2, "opacity": 1, "size": 70}}
      ]
    },
    {
      "width": 197, "height": 197,
      "encoding": {
        "x": {"field": "t", "type": "quantitative", "scale": {"domain": [-60, 10], "nice": false, "zero": false},
              "axis": {"title": "time before abort [sec]", "titlePadding": 0,
                       "values": [-60,-55,-50,-45,-40,-35,-30,-25,-20,-15,-10,-5,0,5,10],
                       "labelExpr": "(datum.value % 20 === 0 && datum.value <= 0) ? '' + datum.value : ''",
                       "tickSize": {"condition": {"test": "datum.value % 20 === 0", "value": -9}, "value": -5},
                       "labelPadding": 15}},
        "y": {"field": "v", "type": "quantitative", "scale": {"domain": [126.8, 128.8], "nice": false, "zero": false},
              "axis": {"title": "KL_33 RF Phase [deg]", "titlePadding": 16,
                       "values": [126.8,126.85,126.9,126.95,127,127.05,127.1,127.15,127.2,127.25,127.3,127.35,127.4,127.45,127.5,127.55,127.6,127.65,127.7,127.75,127.8,127.85,127.9,127.95,128,128.05,128.1,128.15,128.2,128.25,128.3,128.35,128.4,128.45,128.5,128.55,128.6,128.65,128.7,128.75,128.8],
                       "labelExpr": "abs(datum.value * 5 - round(datum.value * 5)) < 1e-6 ? '' + datum.value : ''",
                       "tickSize": {"condition": {"test": "abs(datum.value * 5 - round(datum.value * 5)) < 1e-6", "value": -9}, "value": -5},
                       "labelPadding": 12}}
      },
      "layer": [
        {"data": {"name": "phk"}, "mark": {"type": "point", "shape": "circle", "filled": false, "stroke": "#000000", "strokeWidth": 1, "opacity": 1, "size": 10}},
        {"data": {"name": "phr"}, "mark": {"type": "point", "shape": "circle", "filled": true, "color": "#ff0000", "opacity": 1, "size": 30}},
        {"data": {"values": [{"t": 0.5, "v": 126.94}]}, "mark": {"type": "point", "shape": "circle", "filled": false, "stroke": "#2233ff", "strokeWidth": 1.2, "opacity": 1, "size": 70}}
      ]
    }
  ]
}
]
}
